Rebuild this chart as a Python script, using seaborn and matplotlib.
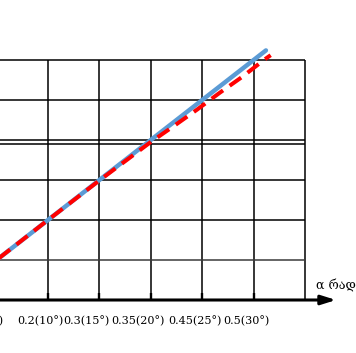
import matplotlib
matplotlib.use("Agg")
import matplotlib.pyplot as plt
import seaborn as sns
import pandas as pd

sns.set_theme(style="white")

# Data (angles in degrees)
alpha_line_x = [5.0, 31.2]
alpha_line_y = [5.0, 31.2]
red_x = [5.0, 10.0, 15.0, 20.0, 22.3, 24.5, 26.7, 28.9, 31.1, 31.66]
red_y = [5.0, 10.0, 14.95, 19.75, 21.8, 23.8, 25.9, 27.9, 30.1, 30.6]

grid_x = [10, 15, 20, 25, 30, 35]
grid_y = [5, 10, 15, 19.5, 20, 25, 30]
tick_labels = ["0.1(5°)", "0.2(10°)", "0.3(15°)", "0.35(20°)", "0.45(25°)", "0.5(30°)"]
label_pos = [3.75, 9.22, 13.7, 18.75, 24.3, 29.26]
axis_label = "α რადიანი"

fig = plt.figure(figsize=(3.56, 3.53), dpi=100)
ax = fig.add_axes([0, 0, 1, 1])
XL, XR = 5.331, 39.96
YB, YT = -6.625, 37.5
ax.set_xlim(XL, XR)
ax.set_ylim(YB, YT)
ax.axis("off")

# grid
ax.vlines(grid_x, 0, 30, color="black", lw=1.1, zorder=1)
for y in grid_y:
    c = "#3a3a3a" if y == 5 else "black"
    ax.hlines(y, XL - 1, 35, color=c, lw=1.1, zorder=1)
# small ticks at the axis
ax.vlines(grid_x[:-1], 0, 0.9, color="black", lw=1.7, zorder=2)

# x axis with arrow
ax.annotate("", xy=(38.02, 0), xytext=(XL - 1, 0),
            arrowprops=dict(arrowstyle="-|>,head_length=0.7,head_width=0.22",
                            lw=2.2, color="black", mutation_scale=12.5,
                            shrinkA=0, shrinkB=0), zorder=3)

df_blue = pd.DataFrame({"x": alpha_line_x, "y": alpha_line_y})
df_red = pd.DataFrame({"x": red_x, "y": red_y})
sns.lineplot(data=df_blue, x="x", y="y", ax=ax, color="#5b9bd5", lw=3.2,
             sort=False, zorder=4)
sns.lineplot(data=df_red, x="x", y="y", ax=ax, color="#ff0000", lw=2.9,
             sort=False, zorder=5)
ax.lines[-1].set_dashes((3.5, 2))
ax.lines[-1].set_dash_capstyle("butt")

for lab, xp in zip(tick_labels, label_pos):
    ax.text(xp, -2.6, lab, ha="center", va="center", fontsize=8.0,
            family="DejaVu Serif", color="black", clip_on=False)

ax.text(36.05, 1.8, axis_label, ha="left", va="center", fontsize=9,
        family=["DejaVu Serif", "DejaVu Sans"], color="black")

if ax.get_legend() is not None:
    ax.get_legend().remove()

fig.savefig("out.png", dpi=100)
